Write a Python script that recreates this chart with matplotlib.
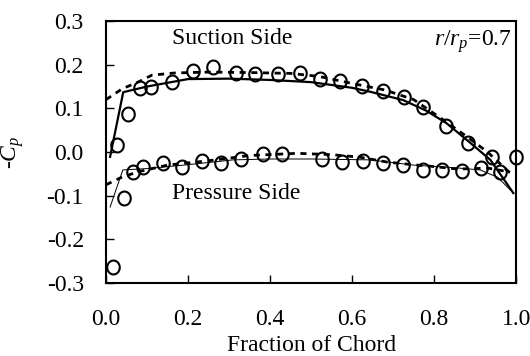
import numpy as np
import matplotlib
matplotlib.use("Agg")
from matplotlib import pyplot as plt
from matplotlib.path import Path

plt.rcParams['font.family'] = ['Liberation Serif', 'DejaVu Serif']
plt.rcParams['mathtext.fontset'] = 'custom'
plt.rcParams['mathtext.rm'] = 'Liberation Serif'
plt.rcParams['mathtext.it'] = 'Liberation Serif:italic'

# measured points (circles)
suction_x = [0.027, 0.054, 0.083, 0.11, 0.16, 0.212, 0.262, 0.317, 0.363, 0.42, 0.473,
             0.522, 0.571, 0.624, 0.675, 0.727, 0.773, 0.829, 0.883, 0.941, 1.0]
suction_y = [0.016, 0.087, 0.147, 0.149, 0.16, 0.185, 0.195, 0.181, 0.178, 0.178, 0.181,
             0.167, 0.163, 0.151, 0.14, 0.126, 0.103, 0.06, 0.021, -0.011, -0.011]
pressure_x = [0.017, 0.044, 0.066, 0.09, 0.139, 0.185, 0.234, 0.28, 0.33, 0.383, 0.429,
              0.527, 0.576, 0.627, 0.676, 0.724, 0.773, 0.82, 0.868, 0.915, 0.961]
pressure_y = [-0.263, -0.105, -0.046, -0.034, -0.025, -0.034, -0.021, -0.025, -0.016, -0.005, -0.005,
              -0.016, -0.023, -0.021, -0.025, -0.03, -0.041, -0.041, -0.043, -0.037, -0.046]

# computed curves
suc_solid_x = [0.01, 0.042, 0.1, 0.2, 0.3, 0.4, 0.5, 0.6, 0.644, 0.724, 0.78, 0.83, 0.888, 0.937, 0.993]
suc_solid_y = [-0.011, 0.137, 0.150, 0.167, 0.168, 0.165, 0.160, 0.147, 0.138, 0.119, 0.095, 0.066, 0.021, -0.018, -0.094]
suc_dash_x = [0.0, 0.04, 0.078, 0.112, 0.168, 0.25, 0.35, 0.45, 0.52, 0.6, 0.68, 0.75, 0.82, 0.88, 0.93, 0.985]
suc_dash_y = [0.12, 0.145, 0.16, 0.176, 0.181, 0.183, 0.182, 0.18, 0.173, 0.157, 0.142, 0.12, 0.075, 0.035, 0.0, -0.048]
pre_solid_x = [0.01, 0.041, 0.1, 0.2, 0.31, 0.4, 0.5, 0.644, 0.75, 0.85, 0.912, 0.955, 0.993]
pre_solid_y = [-0.126, -0.041, -0.038, -0.029, -0.018, -0.016, -0.016, -0.018, -0.03, -0.036, -0.041, -0.058, -0.094]
pre_dash_x = [0.0, 0.04, 0.08, 0.15, 0.25, 0.35, 0.466, 0.55, 0.62, 0.685, 0.758, 0.807, 0.856, 0.932, 0.985]
pre_dash_y = [-0.075, -0.057, -0.045, -0.03, -0.02, -0.008, -0.003, -0.006, -0.012, -0.023, -0.03, -0.034, -0.039, -0.037, -0.046]

xticks = [0.0, 0.2, 0.4, 0.6, 0.8, 1.0]
yticks = [-0.3, -0.2, -0.1, 0.0, 0.1, 0.2, 0.3]

# slightly tall ellipse marker
t = np.linspace(0, 2 * np.pi, 60)
ellipse = Path(np.column_stack([0.9 * np.cos(t), np.sin(t)]), closed=True)

fig = plt.figure(figsize=(5.3, 3.56), dpi=100)
ax = fig.add_axes([0.2, 0.205, 0.774, 0.736])

ax.plot(suc_solid_x, suc_solid_y, color='black', lw=1.6)
ax.plot(pre_solid_x, pre_solid_y, color='black', lw=0.7)
ax.plot(suc_dash_x, suc_dash_y, color='black', lw=2.0, dashes=(2.2, 2.0))
ax.plot(pre_dash_x, pre_dash_y, color='black', lw=2.0, dashes=(2.2, 2.0))
ax.plot(suction_x, suction_y, ls='none', marker=ellipse, ms=10, mfc='none', mec='black', mew=1.5,
        clip_on=False)
ax.plot(pressure_x, pressure_y, ls='none', marker=ellipse, ms=10, mfc='none', mec='black', mew=1.5,
        clip_on=False)

ax.set_xlim(0, 1)
ax.set_ylim(-0.3, 0.3)
ax.set_xticks(xticks)
ax.set_yticks(yticks)
ax.set_xticklabels([f"{v:.1f}" for v in xticks])
ax.set_yticklabels([f"{v:.1f}" for v in yticks])
ax.tick_params(direction='in', length=6, width=1, labelsize=17, top=False, right=False)
ax.tick_params(axis='x', pad=19)
ax.tick_params(axis='y', pad=16)
for s in ax.spines.values():
    s.set_linewidth(1.5)

ax.set_xlabel("Fraction of Chord", fontsize=17)
ax.xaxis.set_label_coords(0.5, -0.2)
ax.set_ylabel(r"-$C_p$", fontsize=17)
ax.yaxis.set_label_coords(-0.195, 0.5)

ax.text(0.161, 0.261, "Suction Side", fontsize=17, va='center')
ax.text(0.161, -0.094, "Pressure Side", fontsize=17, va='center')
ax.text(0.99, 0.92, r"$r/r_p$=0.7", fontsize=17, ha='right', va='center', transform=ax.transAxes)

fig.savefig("out.png", dpi=100)
